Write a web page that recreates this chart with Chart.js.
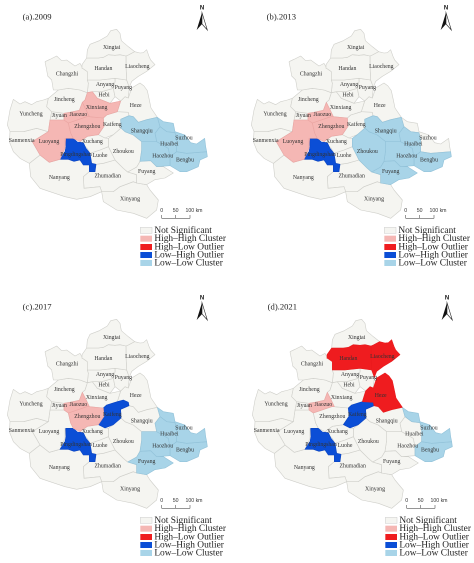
<!DOCTYPE html>
<html><head><meta charset="utf-8">
<script src="https://cdn.jsdelivr.net/npm/chart.js@4"></script>
<style>
html,body{margin:0;padding:0;background:#fff;width:474px;height:563px;overflow:hidden}
canvas{position:absolute}
</style></head><body>
<canvas id="pa" width="237" height="280"></canvas><canvas id="pb" width="237" height="280"></canvas><canvas id="pc" width="237" height="280"></canvas><canvas id="pd" width="229" height="273"></canvas>
<script>
const titles = ["(a).2009","(b).2013","(c).2017","(d).2021"];
const legendLabels = ["Not Significant","High–High Cluster","High–Low Outlier","Low–High Outlier","Low–Low Cluster"];
const scaleTicks = ["0","50","100 km"];
const regions = ["Xingtai","Handan","Liaocheng","Changzhi","Anyang","Puyang","Hebi","Jincheng","Xinxiang","Heze","Yuncheng","Jiyuan","Jiaozuo","Zhengzhou","Kaifeng","Shangqiu","Sanmenxia","Luoyang","Xuchang","Pingdingshan","Luohe","Zhoukou","Huaibei","Suzhou","Haozhou","Bengbu","Fuyang","Nanyang","Zhumadian","Xinyang"];
// map-unit label anchors, same order as regions
const labelX = [335,310,412,201,315,370,312,193,290,407,93,178,235,262,337,425,65,147,277,228,300,370,508,552,488,555,440,178,323,390];
const labelY = [142,205,200,222,253,262,285,298,322,316,342,347,343,380,374,393,422,424,424,463,466,455,432,414,468,480,515,533,528,597];
// region outlines in map units
const outlines = {
Xingtai:[[260,174],[262,150],[270,133],[298,122],[322,108],[332,92],[350,88],[360,100],[364,122],[385,140],[404,155],[385,165],[378,168],[360,164],[345,166],[325,164],[310,172],[295,174]],
Handan:[[246,194],[260,174],[295,174],[310,172],[325,164],[345,166],[360,164],[378,168],[378,200],[380,240],[345,235],[300,240],[262,240],[262,215],[248,205]],
Liaocheng:[[378,168],[385,165],[404,155],[420,159],[430,158],[440,149],[447,169],[452,180],[465,194],[440,214],[415,229],[395,244],[388,262],[380,240],[378,200]],
Changzhi:[[135,185],[150,178],[170,168],[185,182],[200,180],[225,198],[240,190],[248,205],[262,215],[262,240],[265,250],[262,278],[240,270],[205,265],[175,270],[160,270],[155,240],[143,228],[140,210]],
Anyang:[[262,240],[300,240],[345,235],[345,245],[340,265],[305,275],[277,275],[262,278],[265,250]],
Puyang:[[345,235],[380,240],[388,262],[385,294],[375,290],[362,303],[345,290],[340,265],[345,245]],
Hebi:[[277,275],[305,275],[340,265],[345,290],[330,310],[292,295]],
Jincheng:[[145,295],[175,270],[205,265],[240,270],[262,278],[255,300],[247,307],[238,331],[210,337],[192,340],[155,335],[140,320]],
Xinxiang:[[247,307],[255,300],[262,278],[277,275],[292,295],[330,310],[362,303],[352,335],[320,345],[310,354],[268,350],[258,329]],
Heze:[[352,335],[362,303],[375,290],[385,294],[395,264],[420,249],[432,258],[442,272],[448,300],[453,324],[472,352],[440,359],[415,367],[400,350],[387,347],[385,337]],
Yuncheng:[[30,395],[22,375],[30,330],[40,298],[60,312],[75,305],[95,314],[110,305],[130,300],[145,295],[140,320],[155,335],[150,360],[145,395],[110,385],[70,395]],
Jiyuan:[[150,360],[155,335],[192,340],[192,360]],
Jiaozuo:[[192,360],[192,340],[210,337],[238,331],[247,307],[258,329],[268,350],[260,350],[205,369]],
Zhengzhou:[[205,369],[260,350],[268,350],[310,354],[312,379],[295,404],[262,409],[240,425],[220,415],[212,399]],
Kaifeng:[[310,354],[320,345],[352,335],[370,330],[385,337],[387,347],[362,358],[363,384],[340,404],[315,414],[295,404],[312,379]],
Shangqiu:[[362,358],[387,347],[400,350],[415,367],[440,359],[472,352],[480,380],[465,400],[470,425],[425,425],[400,405],[375,395],[363,384]],
Sanmenxia:[[30,395],[70,395],[110,385],[145,395],[97,425],[120,465],[88,490],[60,475],[40,455],[28,425]],
Luoyang:[[97,425],[145,395],[150,360],[192,360],[205,369],[212,399],[220,415],[197,415],[195,445],[180,478],[148,487],[120,465]],
Xuchang:[[240,425],[262,409],[295,404],[315,414],[325,415],[325,440],[300,450],[270,460],[262,445]],
Pingdingshan:[[197,415],[220,415],[232,426],[250,428],[258,445],[270,460],[275,490],[288,493],[285,515],[268,515],[268,495],[250,495],[240,480],[222,484],[205,478],[180,478],[195,455],[198,440]],
Luohe:[[270,460],[300,450],[325,440],[345,480],[310,490],[288,493],[275,490]],
Zhoukou:[[325,415],[340,404],[363,384],[375,395],[400,405],[425,425],[425,450],[420,484],[410,501],[383,516],[370,505],[345,480],[325,440]],
Huaibei:[[480,380],[500,395],[525,398],[530,420],[530,455],[510,470],[505,445],[470,425],[465,400]],
Suzhou:[[472,352],[490,365],[520,370],[525,395],[555,405],[572,428],[590,432],[614,415],[617,440],[620,455],[560,460],[530,455],[530,420],[525,398],[500,395],[480,380]],
Haozhou:[[425,425],[470,425],[505,445],[510,470],[510,497],[470,500],[452,482],[420,484],[425,450]],
Bengbu:[[530,455],[560,460],[620,455],[622,470],[600,480],[595,500],[560,515],[540,515],[510,497],[510,470]],
Fuyang:[[383,516],[410,501],[420,484],[452,482],[470,500],[490,500],[520,519],[495,534],[465,539],[440,554],[410,549],[410,524]],
Nanyang:[[88,490],[120,465],[148,487],[180,478],[205,478],[222,484],[240,480],[250,495],[268,495],[268,515],[250,530],[252,565],[300,560],[305,575],[270,590],[230,598],[195,590],[150,575],[120,565],[92,530]],
Zhumadian:[[268,515],[285,515],[288,493],[310,490],[345,480],[370,505],[383,516],[410,524],[410,549],[400,545],[360,560],[340,575],[305,575],[300,560],[252,565],[250,530]],
Xinyang:[[305,575],[340,575],[360,560],[400,545],[410,549],[440,554],[450,570],[475,600],[470,630],[440,655],[400,640],[350,630],[310,605]]
};
// cluster membership per year: High-High, High-Low, Low-High, Low-Low
const y2009 = [["Xinxiang","Jiaozuo","Zhengzhou","Luoyang"],[],["Pingdingshan"],["Shangqiu","Huaibei","Suzhou","Haozhou","Bengbu"]];
const y2013 = [["Jiaozuo","Zhengzhou","Luoyang"],[],["Pingdingshan"],["Shangqiu","Zhoukou","Huaibei","Haozhou","Fuyang","Bengbu"]];
const y2017 = [["Jiaozuo","Zhengzhou"],[],["Pingdingshan","Kaifeng"],["Huaibei","Suzhou","Haozhou","Fuyang","Bengbu"]];
const y2021 = [["Jiaozuo"],["Handan","Liaocheng","Heze"],["Pingdingshan","Kaifeng"],["Suzhou","Bengbu"]];
const years = [y2009,y2013,y2017,y2021];

const colors = ["#f5f5f1","#f5b7b4","#ef1c1f","#0b4ed6","#a8d4e8"];
const edges = ["#cfcfca","#eaa5a2","#ea1a1d","#0a45c4","#92c2d9"];
const SERIF = '"Liberation Serif","DejaVu Serif",serif';
const SANS = '"Liberation Sans",sans-serif';

function classOf(name, yr){
  for(let i=0;i<4;i++) if(yr[i].includes(name)) return i+1;
  return 0;
}
const overlay = {
  id:'overlay',
  afterDatasetsDraw(chart, args, o){
    const c = chart.ctx, X = v=>chart.scales.x.getPixelForValue(v), Y = v=>chart.scales.y.getPixelForValue(v);
    c.save();
    c.textAlign='center'; c.textBaseline='middle';
    // region names
    c.fillStyle='#333'; c.font='5.8px '+SERIF;
    regions.forEach((r,i)=>c.fillText(r,X(labelX[i]),Y(labelY[i])));
    // panel title
    c.textAlign='left'; c.fillStyle='#222'; c.font='8.6px '+SERIF;
    c.fillText(o.title,X(68),Y(52));
    // north arrow
    c.textAlign='center'; c.font='bold 6px '+SANS; c.fillStyle='#111';
    c.fillText('N',X(606),Y(24));
    c.beginPath();c.moveTo(X(606),Y(38));c.lineTo(X(590),Y(90));c.lineTo(X(606),Y(72));c.closePath();c.fill();
    c.beginPath();c.moveTo(X(606),Y(38));c.lineTo(X(622),Y(90));c.lineTo(X(606),Y(72));c.closePath();
    c.fillStyle='#fff';c.fill();c.strokeStyle='#222';c.lineWidth=0.6;c.stroke();
    // scale bar
    c.strokeStyle='#555';c.lineWidth=0.6;
    const sx=[485,527,570];
    c.beginPath();c.moveTo(X(sx[0]),Y(655));c.lineTo(X(sx[2]),Y(655));
    sx.forEach(s=>{c.moveTo(X(s),Y(645));c.lineTo(X(s),Y(655));});c.stroke();
    c.fillStyle='#333';c.font='5.2px '+SANS;
    c.fillText(scaleTicks[0],X(485),Y(632));c.fillText(scaleTicks[1],X(527),Y(632));
    c.fillText(scaleTicks[2],X(582),Y(632));
    // legend
    const ly=[691,716,741,765,789];
    legendLabels.forEach((t,i)=>{
      c.fillStyle=colors[i];
      c.fillRect(X(421),Y(ly[i]-9),X(456)-X(421),Y(ly[i]+9)-Y(ly[i]-9));
      if(i===0){c.strokeStyle='#ccc';c.lineWidth=0.5;c.strokeRect(X(421),Y(ly[i]-9),X(456)-X(421),Y(ly[i]+9)-Y(ly[i]-9));}
      c.textAlign='left';c.fillStyle='#222';c.font='9.4px '+SERIF;
      c.fillText(t,X(463),Y(ly[i]));
    });
    c.restore();
  }
};
const spots = [[0,0],[243.7,0],[0,290],[245,290]];
const frame = [[711,840],[711,840],[711,840],[687,819]];
["pa","pb","pc","pd"].forEach((id,p)=>{
  const el=document.getElementById(id);
  el.style.left=spots[p][0]+'px'; el.style.top=spots[p][1]+'px';
  new Chart(el,{
    type:'scatter',
    plugins:[overlay],
    data:{datasets:regions.map(r=>{
      const pts=outlines[r].concat([outlines[r][0]]).map(q=>({x:q[0],y:q[1]}));
      const k=classOf(r,years[p]);
      return {label:r,data:pts,showLine:true,fill:'shape',tension:0,pointRadius:0,
        backgroundColor:colors[k],borderColor:edges[k],borderWidth:0.6,borderJoinStyle:'round',order:k===0?5:1};
    })},
    options:{responsive:false,animation:false,devicePixelRatio:2,
      layout:{padding:0},
      events:[],
      scales:{
        x:{type:'linear',display:false,min:0,max:frame[p][0]},
        y:{type:'linear',display:false,reverse:true,min:0,max:frame[p][1]}
      },
      plugins:{legend:{display:false},tooltip:{enabled:false},overlay:{title:titles[p]}}
    }
  });
});
</script>
</body></html>
